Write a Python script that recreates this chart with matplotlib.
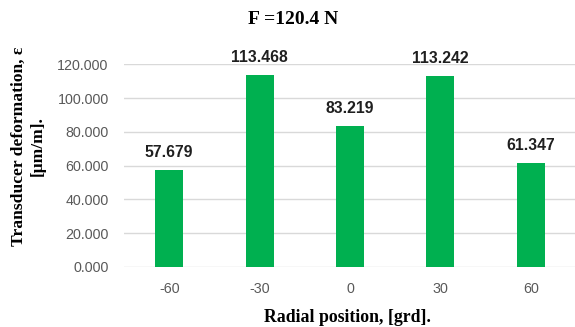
import matplotlib
matplotlib.use("Agg")
import matplotlib.pyplot as plt

categories = ["-60", "-30", "0", "30", "60"]
values = [57.679, 113.468, 83.219, 113.242, 61.347]
yticks = [0, 20, 40, 60, 80, 100, 120]

W, H = 575, 327
fig = plt.figure(figsize=(W / 100, H / 100), dpi=100)
ax = fig.add_axes([124 / W, 1 - 267 / H, (576 - 124) / W, (267 - 64.3) / H])

x = list(range(len(categories)))
ax.bar(x, values, width=0.31, color="#00B050", zorder=3)
ax.set_xlim(-0.5, len(categories) - 0.5)
ax.set_ylim(0, 120)
ax.set_yticks(yticks)
ax.set_yticklabels([f"{v:.3f}" for v in yticks])
ax.set_xticks(x)
ax.set_xticklabels(categories)
ax.grid(axis="y", color="#D9D9D9", lw=1.0, zorder=0)
for s in ax.spines.values():
    s.set_visible(False)
ax.tick_params(axis="both", length=0, labelsize=10.3, colors="#595959")
ax.tick_params(axis="y", pad=11)
ax.tick_params(axis="x", pad=11)
for lab in ax.get_xticklabels() + ax.get_yticklabels():
    lab.set_fontfamily("Liberation Sans")

for xi, v in zip(x, values):
    ax.annotate(f"{v:.3f}", (xi, v), xytext=(0, 12.6), textcoords="offset points",
                ha="center", va="center", fontsize=11.3, fontweight="bold",
                family="Liberation Sans", color="#1F1F1F", annotation_clip=False)

serif = "Liberation Serif"
fig.text(293 / W, 1 - 20 / H, "F =120.4 N", ha="center", va="center",
         fontsize=14, fontweight="bold", family=serif)
fig.text(347 / W, 1 - 318 / H, "Radial position, [grd].", ha="center", va="center",
         fontsize=12.8, fontweight="bold", family=serif)
fig.text(28 / W, 1 - 146 / H, "Transducer deformation, ε\n[μm/m].", ha="center", va="center",
         rotation=90, multialignment="center", fontsize=12.6, fontweight="bold",
         family=serif, linespacing=1.25)

fig.savefig("out.png", dpi=100)
